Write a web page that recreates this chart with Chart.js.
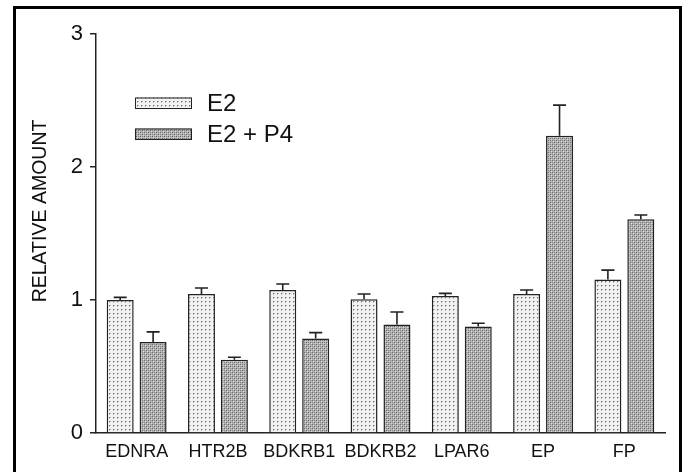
<!DOCTYPE html>
<html>
<head>
<meta charset="utf-8">
<script src="https://cdn.jsdelivr.net/npm/chart.js@4/dist/chart.umd.min.js"></script>
<style>
  html, body { margin: 0; padding: 0; background: #fff; }
  canvas { display: block; }
</style>
</head>
<body>
<canvas id="grafico" width="687" height="472"></canvas>
<script>
// ======================
// DADOS
// ======================
const genes = ["EDNRA", "HTR2B", "BDKRB1", "BDKRB2", "LPAR6", "EP", "FP"];
const serieNomes = ["E2", "E2 + P4"];
const valoresE2 = [1.00, 1.045, 1.075, 1.005, 1.03, 1.045, 1.155];
const errosE2 = [0.02, 0.045, 0.045, 0.04, 0.02, 0.03, 0.07];
const valoresE2P4 = [0.685, 0.55, 0.71, 0.815, 0.80, 2.235, 1.607];
const errosE2P4 = [0.075, 0.02, 0.045, 0.095, 0.025, 0.23, 0.032];
const ticksY = [0, 1, 2, 3];
const tituloY = "RELATIVE AMOUNT";

const fonte = '"Liberation Sans", Arial, sans-serif';

// ======================
// Padrões de preenchimento (pontilhado)
// ======================
function padraoClaro(ctx) {
  const c = document.createElement("canvas");
  c.width = 4; c.height = 4;
  const g = c.getContext("2d");
  g.fillStyle = "#f2f2f2";
  g.fillRect(0, 0, 4, 4);
  g.fillStyle = "#6e6e6e";
  g.fillRect(1, 1, 1, 1);
  g.fillStyle = "#bdbdbd";
  g.fillRect(2, 1, 1, 1);
  g.fillRect(1, 2, 1, 1);
  return ctx.createPattern(c, "repeat");
}

function padraoEscuro(ctx) {
  const c = document.createElement("canvas");
  c.width = 4; c.height = 4;
  const g = c.getContext("2d");
  g.fillStyle = "#b4b4b4";
  g.fillRect(0, 0, 4, 4);
  g.fillStyle = "#666";
  g.fillRect(0, 0, 1, 1);
  g.fillRect(2, 2, 1, 1);
  g.fillStyle = "#888";
  g.fillRect(0, 2, 1, 1);
  g.fillRect(2, 0, 1, 1);
  g.fillStyle = "#d8d8d8";
  g.fillRect(1, 1, 1, 1);
  g.fillRect(3, 3, 1, 1);
  return ctx.createPattern(c, "repeat");
}

const canvas = document.getElementById("grafico");
const ctx = canvas.getContext("2d");
const preenchimentos = [padraoClaro(ctx), padraoEscuro(ctx)];
const erros = [errosE2, errosE2P4];

// ======================
// Plugins: moldura, barras de erro, legenda, título do eixo Y
// ======================
const molduraPlugin = {
  id: "moldura",
  afterDraw(chart) {
    const c = chart.ctx;
    c.save();
    c.strokeStyle = "#000";
    c.lineWidth = 3;
    c.beginPath();
    c.moveTo(14.5, 490);
    c.lineTo(14.5, 7.5);
    c.lineTo(680.5, 7.5);
    c.lineTo(680.5, 490);
    c.stroke();
    c.restore();
  }
};

const errosPlugin = {
  id: "barrasErro",
  afterDatasetsDraw(chart) {
    const c = chart.ctx;
    const y = chart.scales.y;
    c.save();
    c.strokeStyle = "#222";
    c.lineWidth = 1.6;
    chart.data.datasets.forEach((ds, i) => {
      const meta = chart.getDatasetMeta(i);
      meta.data.forEach((bar, j) => {
        const topo = y.getPixelForValue(ds.data[j] + erros[i][j]);
        c.beginPath();
        c.moveTo(bar.x, bar.y);
        c.lineTo(bar.x, topo);
        c.moveTo(bar.x - 6.5, topo);
        c.lineTo(bar.x + 6.5, topo);
        c.stroke();
      });
    });
    c.restore();
  }
};

const legendaPlugin = {
  id: "legendaManual",
  afterDraw(chart) {
    const c = chart.ctx;
    c.save();
    c.font = "24px " + fonte;
    c.textBaseline = "middle";
    chart.data.datasets.forEach((ds, i) => {
      const yc = 103 + i * 31;
      c.fillStyle = ds.backgroundColor;
      c.fillRect(135, yc - 5.5, 57, 11);
      c.strokeStyle = "#222";
      c.lineWidth = 1;
      c.strokeRect(135.5, yc - 5, 56, 10.5);
      c.fillStyle = "#111";
      c.fillText(ds.label, 207, yc + 1);
    });
    c.restore();
  }
};

const tituloYPlugin = {
  id: "tituloY",
  afterDraw(chart) {
    const c = chart.ctx;
    c.save();
    c.translate(41, 211);
    c.rotate(-Math.PI / 2);
    c.font = "19.5px " + fonte;
    c.textAlign = "center";
    c.textBaseline = "middle";
    c.fillStyle = "#111";
    c.fillText(tituloY, 0, 0);
    c.restore();
  }
};

// ======================
// Gráfico
// ======================
new Chart(ctx, {
  type: "bar",
  data: {
    labels: genes,
    datasets: [
      {
        label: serieNomes[0],
        data: valoresE2,
        backgroundColor: preenchimentos[0],
        borderColor: "#222",
        borderWidth: 1.5,
        borderSkipped: "bottom",
        categoryPercentage: 0.81,
        barPercentage: 0.82
      },
      {
        label: serieNomes[1],
        data: valoresE2P4,
        backgroundColor: preenchimentos[1],
        borderColor: "#222",
        borderWidth: 1.5,
        borderSkipped: "bottom",
        categoryPercentage: 0.81,
        barPercentage: 0.82
      }
    ]
  },
  options: {
    responsive: false,
    animation: false,
    devicePixelRatio: 1,
    layout: { padding: { top: 34, right: 22, left: 0, bottom: 0 } },
    plugins: {
      legend: { display: false },
      tooltip: { enabled: false },
      title: { display: false }
    },
    scales: {
      x: {
        grid: { display: false },
        border: { display: true, color: "#222", width: 1.5 },
        ticks: {
          color: "#111",
          padding: 0,
          font: { family: fonte, size: 18 },
          maxRotation: 0,
          autoSkip: false
        },
        afterFit: (scale) => { scale.height = 39; }
      },
      y: {
        min: 0,
        max: 3,
        afterBuildTicks: (scale) => { scale.ticks = ticksY.map(v => ({ value: v })); },
        grid: {
          drawOnChartArea: false,
          drawTicks: true,
          tickLength: 6,
          color: "#222",
          lineWidth: 1.5
        },
        border: { display: true, color: "#222", width: 1.5 },
        ticks: {
          color: "#111",
          padding: 7,
          font: { family: fonte, size: 22 }
        },
        afterFit: (scale) => { scale.width = 96; }
      }
    }
  },
  plugins: [errosPlugin, legendaPlugin, tituloYPlugin, molduraPlugin]
});
</script>
</body>
</html>
